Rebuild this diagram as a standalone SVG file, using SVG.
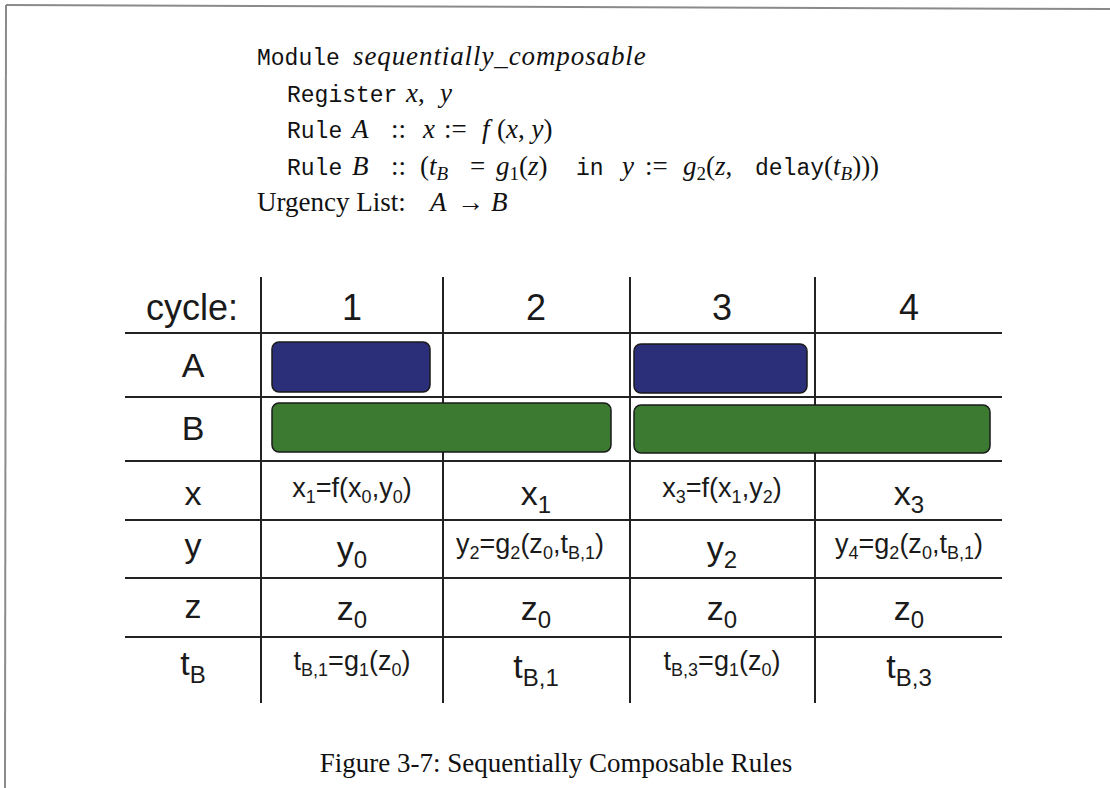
<svg xmlns="http://www.w3.org/2000/svg" width="1110" height="788" viewBox="0 0 1110 788">
<style>
.frame{stroke:#8a8a8a;stroke-width:2;fill:none}
.grid{stroke:#222;stroke-width:2;fill:none}
.tt{font-family:"Liberation Mono",monospace;font-size:23px;fill:#111}
.rm{font-family:"Liberation Serif",serif;font-size:27px;fill:#111}
.mi{font-family:"Liberation Serif",serif;font-style:italic;font-size:27px;fill:#111}
.msub{font-size:19px}
.hd{font-family:"Liberation Sans",Arial,sans-serif;font-size:36px;fill:#1a1a1a;text-anchor:middle}
.lb{font-family:"Liberation Sans",Arial,sans-serif;font-size:34px;fill:#1a1a1a;text-anchor:middle}
.big{font-family:"Liberation Sans",Arial,sans-serif;font-size:34px;fill:#1a1a1a;text-anchor:middle}
.bsub{font-size:24px}
.sm{font-family:"Liberation Sans",Arial,sans-serif;font-size:27px;fill:#1a1a1a;text-anchor:middle}
.ssub{font-size:18px}
.barA{fill:#2b2f7a;stroke:#1a1a1a;stroke-width:1.5}
.barB{fill:#3b7a30;stroke:#1a1a1a;stroke-width:1.5}
.cap{font-family:"Liberation Serif",serif;font-size:27px;fill:#111;text-anchor:middle}
</style>
<rect width="1110" height="788" fill="#fff"/>
<line class="frame" x1="6" y1="5" x2="1110" y2="9"/>
<line class="frame" x1="6" y1="5" x2="5" y2="788"/>

<g id="code">
<text y="65"><tspan class="tt" x="257">Module</tspan><tspan class="mi" x="353" letter-spacing="0.9">sequentially_composable</tspan></text>
<text y="102"><tspan class="tt" x="287">Register</tspan><tspan class="mi" x="406">x</tspan><tspan class="rm">,</tspan><tspan class="mi" x="440">y</tspan></text>
<text y="138"><tspan class="tt" x="287">Rule</tspan><tspan class="mi" x="352">A</tspan><tspan class="rm" x="391">::</tspan><tspan class="mi" x="423">x</tspan><tspan class="rm" x="444">:=</tspan><tspan class="mi" x="482">f</tspan><tspan class="rm" x="497">(</tspan><tspan class="mi">x</tspan><tspan class="rm">, </tspan><tspan class="mi">y</tspan><tspan class="rm">)</tspan></text>
<text y="175"><tspan class="tt" x="287">Rule</tspan><tspan class="mi" x="352">B</tspan><tspan class="rm" x="391">::</tspan><tspan class="rm" x="420">(</tspan><tspan class="mi">t</tspan><tspan class="mi msub" dy="5">B</tspan><tspan class="rm" dy="-5" x="470">=</tspan><tspan class="mi" x="496">g</tspan><tspan class="rm msub" dy="5">1</tspan><tspan class="rm" dy="-5">(</tspan><tspan class="mi">z</tspan><tspan class="rm">)</tspan><tspan class="tt" x="576">in</tspan><tspan class="mi" x="622">y</tspan><tspan class="rm" x="645">:=</tspan><tspan class="mi" x="683">g</tspan><tspan class="rm msub" dy="5">2</tspan><tspan class="rm" dy="-5">(</tspan><tspan class="mi">z</tspan><tspan class="rm">, </tspan><tspan class="tt" x="755">delay</tspan><tspan class="rm">(</tspan><tspan class="mi">t</tspan><tspan class="mi msub" dy="5">B</tspan><tspan class="rm" dy="-5">)))</tspan></text>
<text y="211"><tspan class="rm" x="257">Urgency List:</tspan><tspan class="mi" x="430">A</tspan><tspan class="rm" x="457">→</tspan><tspan class="mi" x="491">B</tspan></text>
</g>

<g id="grid">
<line class="grid" x1="125" y1="333" x2="1002" y2="333"/>
<line class="grid" x1="125" y1="397" x2="1002" y2="397"/>
<line class="grid" x1="125" y1="461" x2="1002" y2="461"/>
<line class="grid" x1="125" y1="520" x2="1002" y2="520"/>
<line class="grid" x1="125" y1="578" x2="1002" y2="578"/>
<line class="grid" x1="125" y1="637" x2="1002" y2="637"/>
<line class="grid" x1="261" y1="277" x2="261" y2="703"/>
<line class="grid" x1="443" y1="277" x2="443" y2="703"/>
<line class="grid" x1="630" y1="277" x2="630" y2="703"/>
<line class="grid" x1="815" y1="277" x2="815" y2="703"/>
</g>

<g id="header">
<text class="hd" x="192" y="320">cycle:</text>
<text class="hd" x="352" y="320">1</text>
<text class="hd" x="536" y="320">2</text>
<text class="hd" x="722" y="320">3</text>
<text class="hd" x="909" y="320">4</text>
</g>

<g id="labels">
<text class="lb" x="193" y="377">A</text>
<text class="lb" x="193" y="440">B</text>
<text class="lb" x="193" y="505">x</text>
<text class="lb" x="193" y="557">y</text>
<text class="lb" x="193" y="618">z</text>
<text class="lb" x="193" y="675">t<tspan class="bsub" dy="8">B</tspan></text>
</g>

<g id="ruleA1"><rect class="barA" x="272" y="342" width="158" height="50" rx="7"/></g>
<g id="ruleA3"><rect class="barA" x="634" y="344" width="173" height="49" rx="7"/></g>
<g id="ruleB1"><rect class="barB" x="272" y="403" width="339" height="49" rx="7"/></g>
<g id="ruleB3"><rect class="barB" x="634" y="405" width="356" height="48" rx="7"/></g>

<g id="row-x">
<text class="sm" x="352" y="497">x<tspan class="ssub" dy="6">1</tspan><tspan dy="-6">=f(x</tspan><tspan class="ssub" dy="6">0</tspan><tspan dy="-6">,y</tspan><tspan class="ssub" dy="6">0</tspan><tspan dy="-6">)</tspan></text>
<text class="big" x="536" y="505">x<tspan class="bsub" dy="8">1</tspan></text>
<text class="sm" x="722" y="497">x<tspan class="ssub" dy="6">3</tspan><tspan dy="-6">=f(x</tspan><tspan class="ssub" dy="6">1</tspan><tspan dy="-6">,y</tspan><tspan class="ssub" dy="6">2</tspan><tspan dy="-6">)</tspan></text>
<text class="big" x="909" y="505">x<tspan class="bsub" dy="8">3</tspan></text>
</g>

<g id="row-y">
<text class="big" x="352" y="560">y<tspan class="bsub" dy="8">0</tspan></text>
<text class="sm" x="530" y="553">y<tspan class="ssub" dy="6">2</tspan><tspan dy="-6">=g</tspan><tspan class="ssub" dy="6">2</tspan><tspan dy="-6">(z</tspan><tspan class="ssub" dy="6">0</tspan><tspan dy="-6">,t</tspan><tspan class="ssub" dy="6">B,1</tspan><tspan dy="-6">)</tspan></text>
<text class="big" x="722" y="560">y<tspan class="bsub" dy="8">2</tspan></text>
<text class="sm" x="909" y="553">y<tspan class="ssub" dy="6">4</tspan><tspan dy="-6">=g</tspan><tspan class="ssub" dy="6">2</tspan><tspan dy="-6">(z</tspan><tspan class="ssub" dy="6">0</tspan><tspan dy="-6">,t</tspan><tspan class="ssub" dy="6">B,1</tspan><tspan dy="-6">)</tspan></text>
</g>

<g id="row-z">
<text class="big" x="352" y="620">z<tspan class="bsub" dy="8">0</tspan></text>
<text class="big" x="536" y="620">z<tspan class="bsub" dy="8">0</tspan></text>
<text class="big" x="722" y="620">z<tspan class="bsub" dy="8">0</tspan></text>
<text class="big" x="909" y="620">z<tspan class="bsub" dy="8">0</tspan></text>
</g>

<g id="row-t">
<text class="sm" x="352" y="670">t<tspan class="ssub" dy="6">B,1</tspan><tspan dy="-6">=g</tspan><tspan class="ssub" dy="6">1</tspan><tspan dy="-6">(z</tspan><tspan class="ssub" dy="6">0</tspan><tspan dy="-6">)</tspan></text>
<text class="big" x="536" y="678">t<tspan class="bsub" dy="8">B,1</tspan></text>
<text class="sm" x="722" y="670">t<tspan class="ssub" dy="6">B,3</tspan><tspan dy="-6">=g</tspan><tspan class="ssub" dy="6">1</tspan><tspan dy="-6">(z</tspan><tspan class="ssub" dy="6">0</tspan><tspan dy="-6">)</tspan></text>
<text class="big" x="909" y="678">t<tspan class="bsub" dy="8">B,3</tspan></text>
</g>

<g id="caption">
<text class="cap" x="556" y="772">Figure 3-7: Sequentially Composable Rules</text>
</g>
</svg>
